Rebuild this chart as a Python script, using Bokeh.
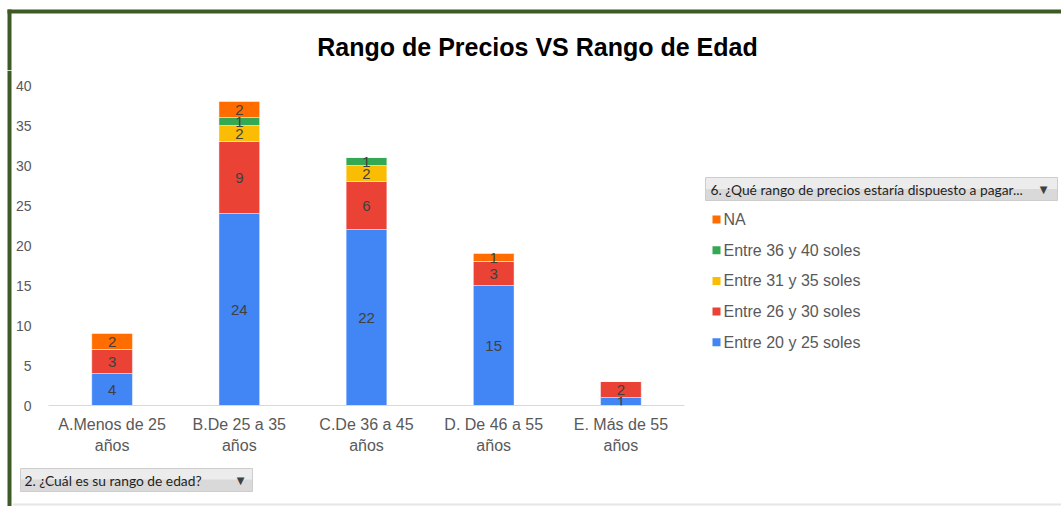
from bokeh.plotting import figure
from bokeh.layouts import row, column
from bokeh.models import (FactorRange, Range1d, ColumnDataSource, LabelSet, Label,
                          BoxAnnotation, SingleIntervalTicker)
from bokeh.core.properties import value
from bokeh.embed import file_html
from bokeh.resources import INLINE

# ---------------- data ----------------
categories = ["A.Menos de 25\naños", "B.De 25 a 35\naños", "C.De 36 a 45\naños",
              "D. De 46 a 55\naños", "E. Más de 55\naños"]
series = ["Entre 20 y 25 soles", "Entre 26 y 30 soles", "Entre 31 y 35 soles",
          "Entre 36 y 40 soles", "NA"]
colors = ["#4285F4", "#EA4335", "#FBBC04", "#34A853", "#FF6D01"]
v_20_25 = [4, 24, 22, 15, 1]
v_26_30 = [3, 9, 6, 3, 2]
v_31_35 = [0, 2, 2, 0, 0]
v_36_40 = [0, 1, 1, 0, 0]
v_na = [2, 2, 0, 1, 0]
y_max = 40
y_tick_step = 5
title_text = "Rango de Precios VS Rango de Edad"
legend_header = "6. ¿Qué rango de precios estaría dispuesto a pagar..."
axis_button = "2. ¿Cuál es su rango de edad?"

values = [v_20_25, v_26_30, v_31_35, v_36_40, v_na]

FONT = "Liberation Sans"
TXT = "#595959"
BORDER = "#3d5b26"

# page layout (px)
LEFT_W = 12
TOP_H = 70
MAIN_W = 678
MAIN_H = 394
LEG_W = 1061 - LEFT_W - MAIN_W
BOT_H = 506 - TOP_H - MAIN_H
FRAME_L, FRAME_R, FRAME_T, FRAME_B = 48, 684, 85, 405
MB_TOP = FRAME_T - TOP_H
MB_BOT = TOP_H + MAIN_H - FRAME_B


def deco(width, height, x0, y0, mt=0, mb=0):
    """Plain drawing surface whose data coordinates are page pixels."""
    f = figure(width=width, height=height, output_backend="svg", toolbar_location=None,
               x_range=Range1d(x0, x0 + width),
               y_range=Range1d(y0 + height - mb, y0 + mt),
               x_axis_location=None, y_axis_location=None, title=None,
               min_border=0, min_border_left=0, min_border_right=0,
               min_border_top=mt, min_border_bottom=mb)
    f.outline_line_color = None
    f.xgrid.visible = False
    f.ygrid.visible = False
    return f


def box(f, l, r, t, b, color, line=None):
    f.add_layout(BoxAnnotation(left=l, right=r, top=t, bottom=b, fill_color=color,
                               fill_alpha=1, line_color=line, line_alpha=1))


def text(f, x, y, s, size, color, font=FONT, align="left", style="normal"):
    f.add_layout(Label(x=x, y=y, text=s, text_align=align, text_baseline="middle",
                       text_font=font, text_font_size=size, text_color=color,
                       text_font_style=style))


# ---------------- top strip: border + title ----------------
top = deco(1061, TOP_H, 0, 0)
box(top, 7, 1061, 9, 13, BORDER)
box(top, 7, 11, 9, TOP_H, BORDER)
text(top, 537, 46.5, title_text, "25px", "#000000", align="center", style="bold")

# ---------------- left strip ----------------
left = deco(LEFT_W, 506 - TOP_H, 0, TOP_H)
box(left, 7, 11, TOP_H, 506, BORDER)

# ---------------- main chart ----------------
p = figure(width=MAIN_W, height=MAIN_H, x_range=FactorRange(factors=categories),
           y_range=Range1d(0, y_max), output_backend="svg", toolbar_location=None,
           title=None,
           min_border_left=FRAME_L - LEFT_W, min_border_right=LEFT_W + MAIN_W - FRAME_R,
           min_border_top=MB_TOP, min_border_bottom=MB_BOT)
p.outline_line_color = None
p.xgrid.visible = False
p.ygrid.visible = False

src = ColumnDataSource({"cat": categories, **{s: v for s, v in zip(series, values)}})
p.vbar_stack(series, x="cat", width=0.32, fill_color=colors, line_color="white",
             line_alpha=0.45, line_width=1, source=src)

lx, ly, lt = [], [], []
for i, c in enumerate(categories):
    base = 0
    for v in values:
        val = v[i]
        if val > 0:
            lx.append(c)
            ly.append(base + val / 2)
            lt.append(str(val))
        base += val
lsrc = ColumnDataSource({"x": lx, "y": ly, "t": lt})
p.add_layout(LabelSet(x="x", y="y", text="t", source=lsrc, text_align="center",
                      text_baseline="middle", text_font_size=value("15px"),
                      text_color=value("#404040"), text_font=value(FONT)))

p.yaxis.ticker = SingleIntervalTicker(interval=y_tick_step)
p.yaxis.axis_line_color = None
p.yaxis.major_tick_line_color = None
p.yaxis.minor_tick_line_color = None
p.yaxis.major_tick_out = 0
p.yaxis.major_tick_in = 0
p.yaxis.major_label_text_font_size = "14px"
p.yaxis.major_label_text_color = TXT
p.yaxis.major_label_text_font = FONT
p.yaxis.major_label_standoff = 13

p.xaxis.axis_line_color = "#d9d9d9"
p.xaxis.major_tick_line_color = None
p.xaxis.minor_tick_line_color = None
p.xaxis.major_tick_out = 0
p.xaxis.major_tick_in = 0
p.xaxis.major_label_text_font_size = "16px"
p.xaxis.major_label_text_color = TXT
p.xaxis.major_label_text_font = FONT
p.xaxis.major_label_text_line_height = 1.25
p.xaxis.major_label_standoff = 10

# ---------------- legend panel ----------------
leg = deco(LEG_W, MAIN_H, LEFT_W + MAIN_W, TOP_H, mt=MB_TOP, mb=MB_BOT)
box(leg, 705, 1057, 177, 189, "#ececec")
box(leg, 705, 1057, 188.5, 200, "#d9d9d9")
box(leg, 705, 1057, 177, 200, None, "#cdcdcd")
text(leg, 710, 188.5, legend_header, "13.8px", "#1f1f1f", font="Lato")
text(leg, 1043, 188.5, "▼", "10px", "#404040", font="DejaVu Sans", align="center")

leg_names = series[::-1]
leg_colors = colors[::-1]
leg_y = [219 + k * 30.7 for k in range(len(leg_names))]
leg.scatter(x=[716] * len(leg_names), y=leg_y, marker="square", size=8,
            fill_color=leg_colors, line_color=None)
for name, yc in zip(leg_names, leg_y):
    text(leg, 723, yc, name, "16px", TXT)

# ---------------- bottom strip: field button ----------------
bot = deco(1061 - LEFT_W, BOT_H, LEFT_W, TOP_H + MAIN_H)
box(bot, 20, 252, 468, 479.5, "#ececec")
box(bot, 20, 252, 479, 491, "#d9d9d9")
box(bot, 20, 252, 468, 491, None, "#cdcdcd")
text(bot, 24, 479.5, axis_button, "13.8px", "#1f1f1f", font="Lato")
text(bot, 240, 479.5, "▼", "10px", "#404040", font="DejaVu Sans", align="center")
box(bot, LEFT_W, 1061, 503, 505, "#e6e6e6")

layout = column(top, row(left, column(row(p, leg), bot)))
open("out.html", "w").write(file_html(layout, INLINE))
